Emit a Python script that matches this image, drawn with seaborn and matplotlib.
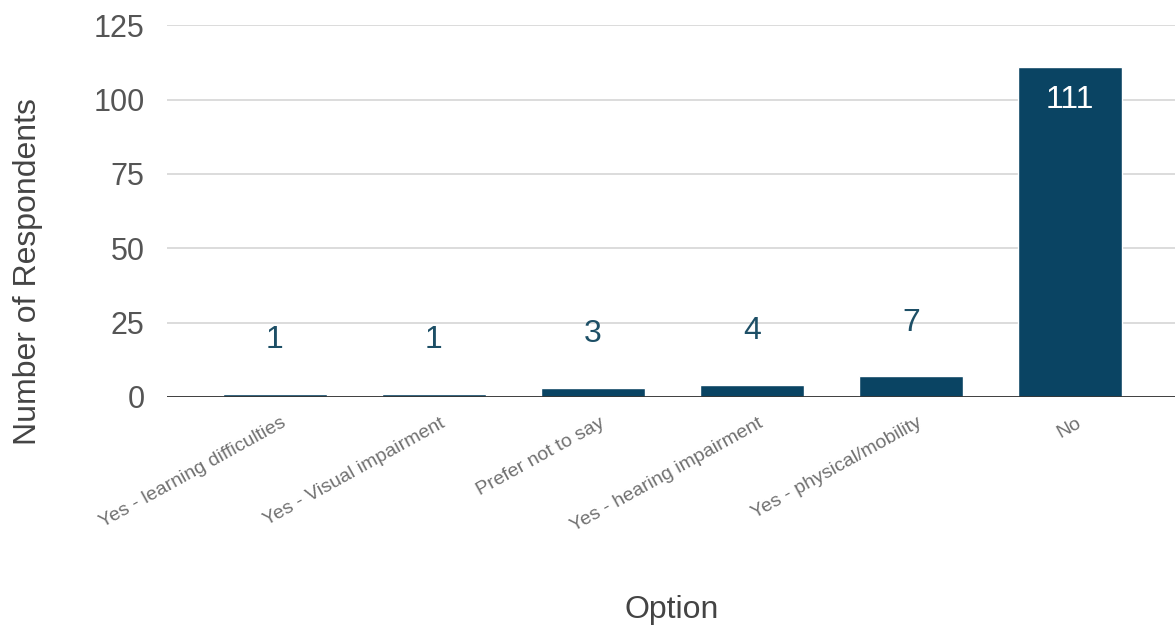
import matplotlib
matplotlib.use("Agg")
import matplotlib.pyplot as plt
import matplotlib.transforms as mtransforms
import seaborn as sns
import pandas as pd

# chart data
options = ["Yes - learning difficulties", "Yes - Visual impairment", "Prefer not to say",
           "Yes - hearing impairment", "Yes - physical/mobility", "No"]
respondents = [1, 1, 3, 4, 7, 111]
y_ticks = [0, 25, 50, 75, 100, 125]

bar_color = "#0a4463"
label_color = "#1d4f66"

sns.set_style("white")
plt.rcParams['font.family'] = ['Liberation Sans', 'DejaVu Sans']

df = pd.DataFrame({"Option": options, "Number of Respondents": respondents})

fig = plt.figure(figsize=(11.75, 6.31), dpi=100)
ax = fig.add_axes([0.142, 0.371, 0.858, 0.589])

sns.barplot(data=df, x="Option", y="Number of Respondents", color=bar_color,
            width=0.65, saturation=1, ax=ax, zorder=3)

ax.set_xlim(-0.68, 5.66)
ax.set_ylim(0, 125)
ax.set_yticks(y_ticks)
ax.yaxis.grid(True, color="#d6d6d6", linewidth=1.2, zorder=0)
ax.axhline(0, color="#333333", linewidth=1.3, zorder=4)
for s in ax.spines.values():
    s.set_visible(False)
ax.tick_params(axis="y", length=0, labelsize=22, labelcolor="#555555", pad=16)
ax.tick_params(axis="x", length=0, labelsize=14, labelcolor="#707070", pad=18)

# rotated category labels, nudged right so the end sits just past the bar centre
shift = mtransforms.ScaledTranslation(10 / 100, 0, fig.dpi_scale_trans)
for lbl in ax.get_xticklabels():
    lbl.set_rotation(29)
    lbl.set_ha("right")
    lbl.set_va("center")
    lbl.set_rotation_mode("anchor")
    lbl.set_transform(lbl.get_transform() + shift)

# data labels: above small bars, inside the tall one
for i, v in enumerate(respondents):
    if v > 100:
        ax.text(i, v - 11, str(v), ha="center", va="center", fontsize=23, color="white", zorder=5)
    else:
        ax.text(i, v + 18, str(v), ha="center", va="center", fontsize=23, color=label_color, zorder=5)

ax.set_ylabel("Number of Respondents", fontsize=23, color="#444444", va="center")
ax.yaxis.set_label_coords(-0.138, 0.336)
ax.set_xlabel("Option", fontsize=23, color="#444444", va="center")
ax.xaxis.set_label_coords(0.501, -0.573)

fig.savefig("out.png", dpi=100)
